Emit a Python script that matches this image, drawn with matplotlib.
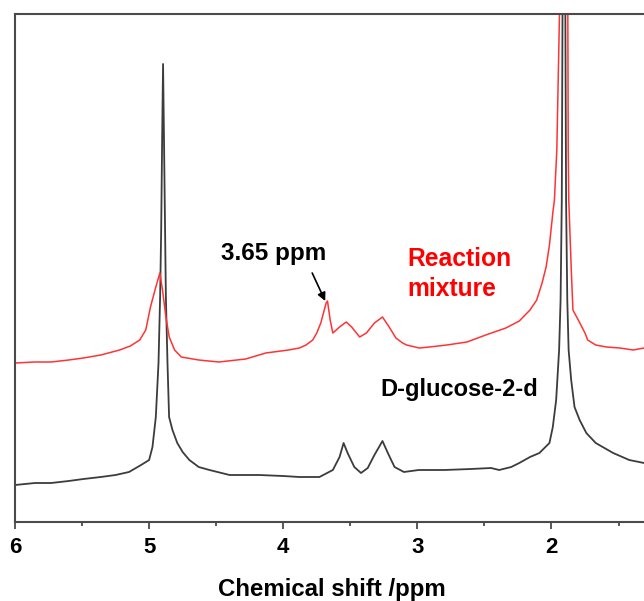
import matplotlib
matplotlib.use("Agg")
import matplotlib.pyplot as plt
from matplotlib.ticker import MultipleLocator

plt.rcParams['font.family'] = ['Liberation Sans', 'DejaVu Sans']

# D-glucose-2-d spectrum (ppm, intensity)
glucose_ppm = [6.00, 5.85, 5.73, 5.60, 5.49, 5.36, 5.25, 5.15, 5.06, 5.00, 4.975, 4.95, 4.93,
               4.918, 4.91, 4.903, 4.896, 4.889, 4.881, 4.875, 4.863, 4.851, 4.826, 4.79,
               4.75, 4.70, 4.63, 4.55, 4.40, 4.18, 4.00, 3.88, 3.73, 3.63, 3.58, 3.55, 3.52,
               3.47, 3.42, 3.37, 3.32, 3.26, 3.22, 3.17, 3.10, 2.99, 2.80, 2.60, 2.45, 2.39,
               2.30, 2.24, 2.16, 2.09, 2.015, 1.99, 1.965, 1.943, 1.932, 1.923, 1.915, 1.907,
               1.899, 1.891, 1.882, 1.872, 1.853, 1.828, 1.79, 1.74, 1.67, 1.54, 1.42, 1.31]
glucose_int = [37, 39, 39, 41, 43, 45, 47, 50, 57, 62, 75, 105, 159,
               225, 292, 382, 458, 382, 292, 225, 159, 105, 92, 79,
               70, 62, 55, 52, 47, 47, 46, 45, 45, 52, 65, 79, 69,
               55, 49, 54, 67, 81, 69, 55, 50, 52, 52, 53, 54, 52,
               55, 59, 65, 69, 79, 95, 122, 172, 222, 322, 600, 1000,
               600, 322, 222, 172, 142, 115, 102, 89, 79, 69, 62, 59]

# Reaction mixture spectrum (ppm, intensity)
mixture_ppm = [6.00, 5.85, 5.73, 5.60, 5.49, 5.36, 5.22, 5.14, 5.07, 5.025, 4.99, 4.95, 4.92,
               4.90, 4.875, 4.85, 4.81, 4.76, 4.63, 4.48, 4.28, 4.13, 3.96, 3.88, 3.83, 3.78,
               3.75, 3.72, 3.68, 3.67, 3.65, 3.63, 3.58, 3.53, 3.49, 3.43, 3.38, 3.32, 3.26,
               3.21, 3.16, 3.11, 3.08, 2.985, 2.91, 2.78, 2.63, 2.49, 2.34, 2.24, 2.16, 2.11,
               2.07, 2.04, 2.015, 1.99, 1.978, 1.96, 1.94, 1.91, 1.878, 1.875, 1.871, 1.853,
               1.84, 1.80, 1.75, 1.73, 1.67, 1.59, 1.49, 1.39, 1.31]
mixture_int = [159, 160, 160, 162, 164, 167, 172, 176, 182, 192, 215, 235, 249,
               232, 205, 185, 172, 165, 162, 160, 163, 169, 172, 174, 177, 182,
               189, 199, 219, 221, 202, 189, 195, 200, 195, 185, 189, 199, 205,
               195, 184, 179, 177, 174, 175, 177, 180, 187, 194, 201, 212, 222,
               239, 255, 277, 309, 322, 372, 509, 900, 509, 372, 322, 255,
               212, 202, 189, 182, 177, 175, 174, 172, 174]

x_ticks = [6, 5, 4, 3, 2]

W, H = 644, 601
fig = plt.figure(figsize=(W / 100, H / 100), dpi=100)
ax = fig.add_axes([15 / W, (H - 522) / H, 1 - 15 / W, (522 - 13.5) / H])

ax.plot(glucose_ppm, glucose_int, color='#3c3c3c', lw=1.3)
ax.plot(mixture_ppm, mixture_int, color='#ff3333', lw=1.1)

ax.set_xlim(6.0, 1.31)
ax.set_ylim(0, 508.5)
ax.set_yticks([])
ax.xaxis.set_major_locator(MultipleLocator(1))
ax.xaxis.set_minor_locator(MultipleLocator(0.5))
ax.set_xticks(x_ticks)
ax.set_xticklabels([str(t) for t in x_ticks], fontsize=16, fontweight='bold')
ax.tick_params(axis='x', which='major', length=5, width=1.3, color='#4a4a4a', pad=6)
ax.tick_params(axis='x', which='minor', length=3, width=1.3, color='#4a4a4a')
for s in ['top', 'left', 'bottom']:
    ax.spines[s].set_color('#4a4a4a')
    ax.spines[s].set_linewidth(1.5)
ax.spines['right'].set_visible(False)

fig.text(332 / W, 1 - 596 / H, 'Chemical shift /ppm', fontsize=17.3, fontweight='bold',
         ha='center', va='baseline')

ax.text(4.075, 262, '3.65 ppm', fontsize=17.5, fontweight='bold', ha='center', va='baseline')
ax.annotate('', xy=(3.687, 221), xytext=(3.784, 249),
            arrowprops=dict(arrowstyle='-|>', color='black', lw=1.2, mutation_scale=12,
                            shrinkA=0, shrinkB=0))
ax.text(3.075, 256, 'Reaction', fontsize=17.7, fontweight='bold', color='#ff0000',
        ha='left', va='baseline')
ax.text(3.075, 226, 'mixture', fontsize=17.7, fontweight='bold', color='#ff0000',
        ha='left', va='baseline')
ax.text(2.687, 126, 'D-glucose-2-d', fontsize=17, fontweight='bold', color='black',
        ha='center', va='baseline')

fig.savefig('out.png', dpi=100)
